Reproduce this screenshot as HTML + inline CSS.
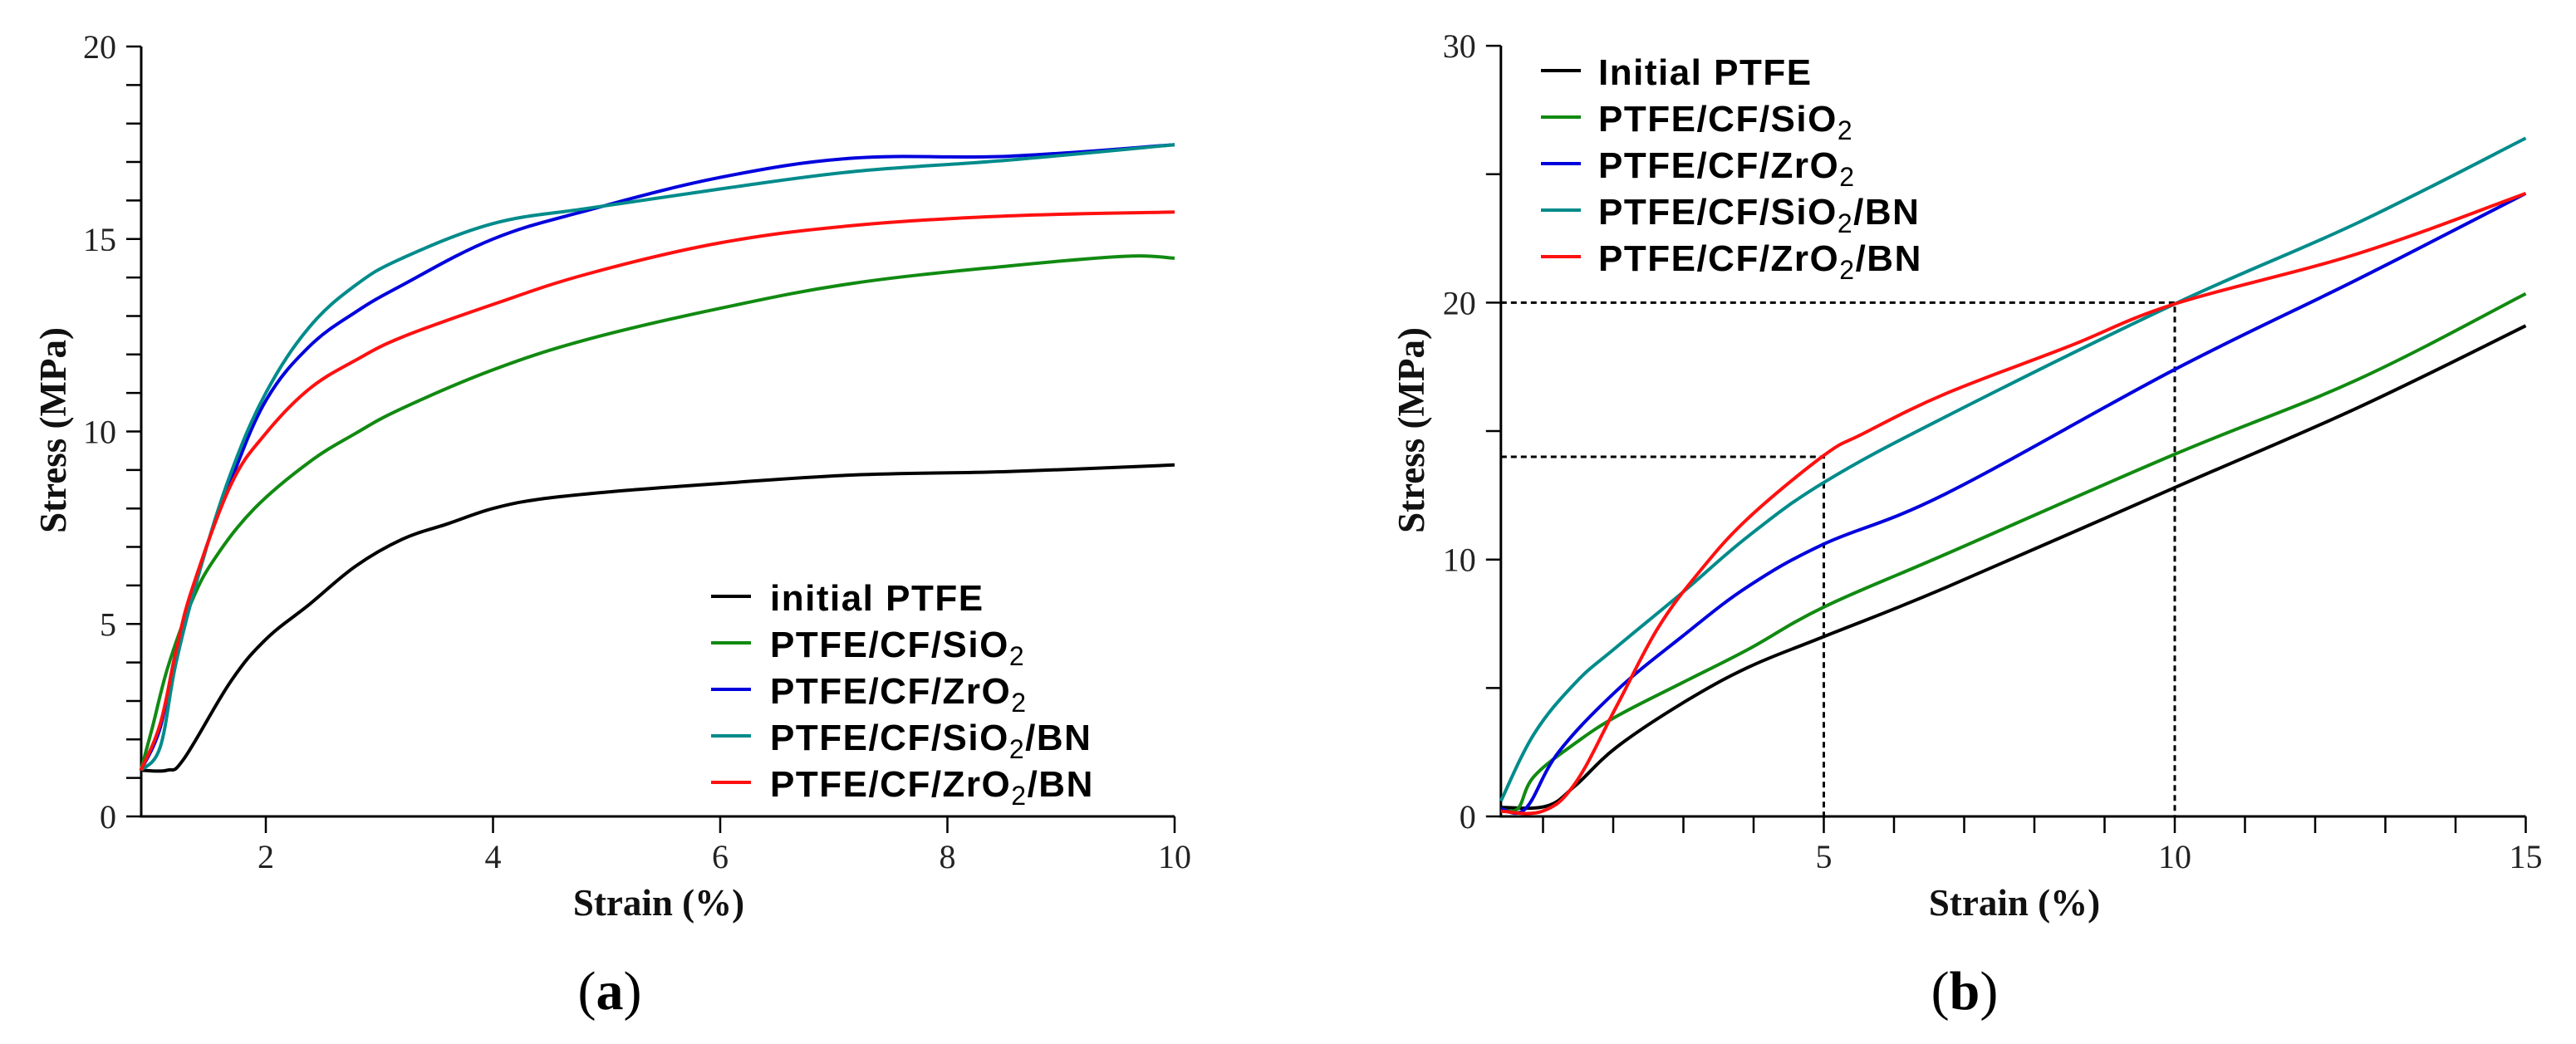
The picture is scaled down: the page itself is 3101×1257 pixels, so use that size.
<!DOCTYPE html>
<html><head><meta charset="utf-8"><style>
html,body{margin:0;padding:0;background:#fff;}
svg{display:block;}
.tick{font-family:"Liberation Serif",serif;font-size:40px;fill:#222;}
.ttl{font-family:"Liberation Serif",serif;font-size:45px;font-weight:bold;fill:#111;}
.lg{font-family:"Liberation Sans",sans-serif;font-size:44px;font-weight:bold;fill:#000;letter-spacing:1.5px;}
.cap{font-family:"Liberation Serif",serif;font-size:66px;fill:#000;}
</style></head><body>
<svg id="fig" width="3101" height="1257" viewBox="0 0 3101 1257" xmlns="http://www.w3.org/2000/svg">
<g id="ga"></g>
<g id="gb"></g>
<text class="ttl" x="793" y="1102" text-anchor="middle">Strain (%)</text>
<text class="ttl" transform="translate(79,518) rotate(-90)" text-anchor="middle">Stress (MPa)</text>
<text class="cap" x="734" y="1215" text-anchor="middle">(<tspan font-weight="bold">a</tspan>)</text>
<text class="ttl" x="2425" y="1102" text-anchor="middle">Strain (%)</text>
<text class="ttl" transform="translate(1714,518) rotate(-90)" text-anchor="middle">Stress (MPa)</text>
<text class="cap" x="2365" y="1215" text-anchor="middle">(<tspan font-weight="bold">b</tspan>)</text>
</svg>
<script>
const NS="http://www.w3.org/2000/svg";
const seriesNames=["initial","sio2","zro2","sio2bn","zro2bn"];
const colors=["#000000","#118a11","#0000dd","#008b8b","#ff1010"];
const labelsA=["initial PTFE","PTFE/CF/SiO|2","PTFE/CF/ZrO|2","PTFE/CF/SiO|2|/BN","PTFE/CF/ZrO|2|/BN"];
const labelsB=["Initial PTFE","PTFE/CF/SiO|2","PTFE/CF/ZrO|2","PTFE/CF/SiO|2|/BN","PTFE/CF/ZrO|2|/BN"];
// Chart A data
const aXTicks=[2,4,6,8,10];
const aYTicks=[0,5,10,15,20];
const aInitialX=[0.9,1.13,1.28,1.69,2.0,2.38,2.79,3.2,3.6,4.0,4.43,5.1,6.0,7.17,8.54,10];
const aInitialY=[1.2,1.2,1.5,3.5,4.6,5.5,6.5,7.2,7.6,8.0,8.25,8.45,8.65,8.87,8.96,9.13];
const aSiO2X=[0.9,1.0,1.14,1.35,1.55,1.9,2.38,2.79,3.2,4.0,4.84,6.0,7.17,8.54,9.56,10];
const aSiO2Y=[1.2,2.3,3.9,5.6,6.7,8.0,9.2,9.95,10.6,11.6,12.4,13.2,13.85,14.3,14.55,14.5];
const aZrO2X=[0.9,1.07,1.21,1.42,1.69,2.0,2.38,2.79,3.2,4.0,4.84,6.0,7.17,8.54,10];
const aZrO2Y=[1.2,2.3,4.3,6.5,8.7,10.8,12.2,13.1,13.8,15.0,15.75,16.6,17.1,17.15,17.45];
const aSiO2BNX=[0.9,1.07,1.21,1.42,1.69,2.0,2.38,2.79,3.2,4.0,4.84,6.0,7.17,8.54,10];
const aSiO2BNY=[1.2,1.8,4.0,6.4,8.9,11.0,12.7,13.8,14.5,15.4,15.8,16.3,16.75,17.05,17.45];
const aZrO2BNX=[0.9,1.07,1.21,1.35,1.69,2.0,2.38,2.79,3.2,4.0,4.84,6.0,7.17,8.54,10];
const aZrO2BNY=[1.2,2.4,4.3,5.9,8.6,9.95,11.1,11.85,12.45,13.3,14.1,14.9,15.35,15.6,15.7];
// Chart B data
const bXTicks=[5,10,15];
const bYTicks=[0,10,20,30];
const bInitialX=[0.4,1.05,1.46,2.05,2.98,3.92,5,6.73,10,12.6,15];
const bInitialY=[0.35,0.4,1.2,2.7,4.4,5.8,7.0,8.9,12.8,15.9,19.1];
const bSiO2X=[0.4,0.64,0.87,1.46,2.05,2.98,3.92,5,6.73,10,12.6,15];
const bSiO2Y=[0.3,0.3,1.55,2.85,3.9,5.2,6.5,8.15,10.2,14.1,17.0,20.35];
const bZrO2X=[0.4,0.75,1.22,2.05,2.98,3.92,5,6.73,10,12.6,15];
const bZrO2Y=[0.3,0.3,2.5,4.9,7.0,8.95,10.6,12.55,17.4,20.9,24.25];
const bSiO2BNX=[0.4,0.87,1.46,2.05,2.98,3.92,5,6.73,10,12.6,15];
const bSiO2BNY=[0.6,3.2,5.2,6.6,8.7,10.9,13.0,15.55,19.95,23.1,26.4];
const bZrO2BNX=[0.4,0.99,1.46,2.05,2.63,3.22,3.92,5,5.56,6.73,8.49,10,12.6,15];
const bZrO2BNY=[0.2,0.2,1.3,4.3,7.3,9.5,11.6,14.05,14.9,16.45,18.3,19.95,21.9,24.25];
const bGuideX=[5,10];
const bGuideY=[14,20];

function el(tag,attrs,parent){const e=document.createElementNS(NS,tag);for(const k in attrs)e.setAttribute(k,attrs[k]);parent.appendChild(e);return e;}
const xa=v=>320+(v-2)*136.75, ya=v=>983-v*46.35;
const xb=v=>1773+v*84.5, yb=v=>983-v*30.93;

function axes(g,X,Y,x0,x1,y0,y1,xt,yt,xMinor,yMinor,tag){
  const ax=el('path',{d:`M${X(x0)} ${Y(y1)} V${Y(y0)} H${X(x1)}`,stroke:'#000','stroke-width':3,fill:'none'},g);
  
  
  yMinor.forEach(v=>{const t=el('line',{x1:X(x0)-18,x2:X(x0),y1:Y(v),y2:Y(v),stroke:'#000','stroke-width':2.5},g);
    
    });
  yt.forEach(v=>{const t=el('text',{class:'tick',x:X(x0)-30,y:Y(v)+14,'text-anchor':'end'},g);t.textContent=v;
    
    });
  xMinor.forEach(v=>{const t=el('line',{x1:X(v),x2:X(v),y1:Y(y0),y2:Y(y0)+20,stroke:'#000','stroke-width':2.5},g);
    
    });
  xt.forEach(v=>{const t=el('text',{class:'tick',x:X(v),y:1045,'text-anchor':'middle'},g);t.textContent=v;
    
    });
}
function smoothPath(pts){
  let d='M'+pts[0][0].toFixed(1)+' '+pts[0][1].toFixed(1);
  for(let i=0;i<pts.length-1;i++){
    const p0=pts[Math.max(0,i-1)],p1=pts[i],p2=pts[i+1],p3=pts[Math.min(pts.length-1,i+2)];
    const t=0.18;
    const c1=[p1[0]+(p2[0]-p0[0])*t,p1[1]+(p2[1]-p0[1])*t];
    const c2=[p2[0]-(p3[0]-p1[0])*t,p2[1]-(p3[1]-p1[1])*t];
    d+=` C${c1[0].toFixed(1)} ${c1[1].toFixed(1)} ${c2[0].toFixed(1)} ${c2[1].toFixed(1)} ${p2[0].toFixed(1)} ${p2[1].toFixed(1)}`;
  }
  return d;
}
function series(g,X,Y,xs,ys,i,tag){
  const pts=xs.map((v,k)=>[X(v),Y(ys[k])]);
  const p=el('path',{d:smoothPath(pts),stroke:colors[i],'stroke-width':4,fill:'none','stroke-linejoin':'round'},g);
  
  
}
function legend(g,labels,lx,tx,by,step,tag){
  labels.forEach((s,i)=>{
    const y=by+i*step;
    const l=el('line',{x1:lx,x2:lx+48,y1:y-17,y2:y-17,stroke:colors[i],'stroke-width':4},g);
    
    
    const t=el('text',{class:'lg',x:tx,y:y},g);
    
    
    s.split('|').forEach((part,k)=>{const ts=el('tspan',{},t);ts.textContent=part;
      if(k===1){ts.setAttribute('font-size','32');ts.setAttribute('font-weight','normal');ts.setAttribute('dy','10');}
      if(k===2){ts.setAttribute('dy','-10');}});
  });
}
const ga=document.getElementById('ga'), gb=document.getElementById('gb');
const aMinorY=[];for(let v=0;v<=20;v++)aMinorY.push(v);
axes(ga,xa,ya,0.903,10,0,20,aXTicks,aYTicks,aXTicks,aMinorY,'a');
[[aInitialX,aInitialY],[aSiO2X,aSiO2Y],[aZrO2X,aZrO2Y],[aSiO2BNX,aSiO2BNY],[aZrO2BNX,aZrO2BNY]].forEach((s,i)=>series(ga,xa,ya,s[0],s[1],i,'a'));
legend(ga,labelsA,856,927,735,56,'a');

const bMinorX=[];for(let v=1;v<=15;v++)bMinorX.push(v);
const bMinorY=[0,5,10,15,20,25,30];
axes(gb,xb,yb,0.4,15,0,30,bXTicks,bYTicks,bMinorX,bMinorY,'b');
bGuideX.forEach((gx,i)=>{
  const gy=bGuideY[i];
  const p=el('path',{d:`M${xb(0.4)} ${yb(gy)} H${xb(gx)} V${yb(0)}`,stroke:'#000','stroke-width':3,fill:'none','stroke-dasharray':'7 5'},gb);
  
  
});
[[bInitialX,bInitialY],[bSiO2X,bSiO2Y],[bZrO2X,bZrO2Y],[bSiO2BNX,bSiO2BNY],[bZrO2BNX,bZrO2BNY]].forEach((s,i)=>series(gb,xb,yb,s[0],s[1],i,'b'));
legend(gb,labelsB,1855,1924,102,56,'b');
</script>
</body></html>
